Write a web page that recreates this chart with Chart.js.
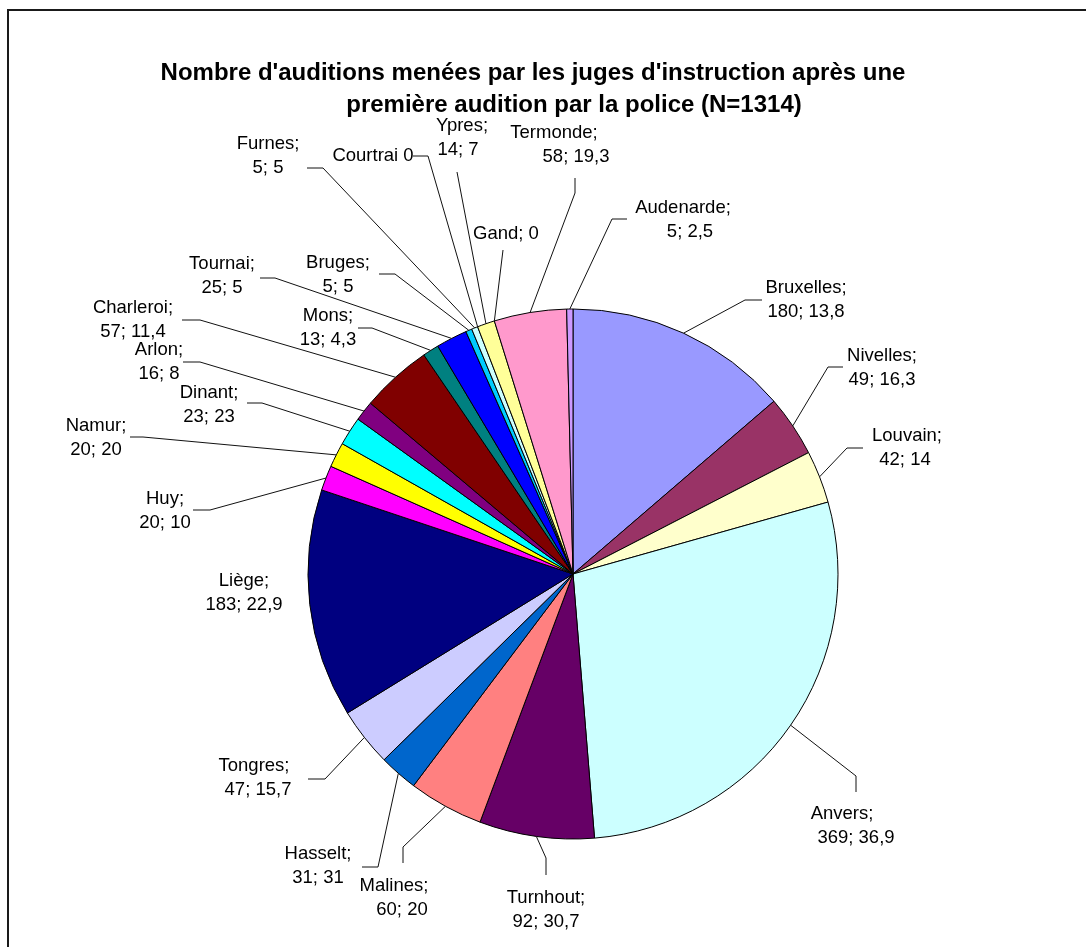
<!DOCTYPE html>
<html lang="fr">
<head>
<meta charset="utf-8">
<title>Auditions par les juges d'instruction</title>
<script src="https://cdn.jsdelivr.net/npm/chart.js@4.4.1/dist/chart.umd.min.js"></script>
<style>
  html, body { margin: 0; padding: 0; background: #fff; }
  #wrap { width: 1086px; height: 947px; }
</style>
</head>
<body>
<div id="wrap"><canvas id="pieChart" width="1086" height="947"></canvas></div>
<script>
// arrondissements dans l'ordre des secteurs (sens horaire depuis midi)
const arrondissements = ['Bruxelles', 'Nivelles', 'Louvain', 'Anvers', 'Turnhout', 'Malines', 'Hasselt',
  'Tongres', 'Liège', 'Huy', 'Namur', 'Dinant', 'Arlon', 'Charleroi', 'Mons', 'Tournai', 'Bruges',
  'Furnes', 'Courtrai', 'Ypres', 'Gand', 'Termonde', 'Audenarde'];
const auditions = [180, 49, 42, 369, 92, 60, 31, 47, 183, 20, 20, 23, 16, 57, 13, 25, 5, 5, 0, 14, 0, 58, 5];
// second chiffre de l'étiquette (null = pas affiché)
const taux = [13.8, 16.3, 14, 36.9, 30.7, 20, 31, 15.7, 22.9, 10, 20, 23, 8, 11.4, 4.3, 5, 5, 5, null, 7, null, 19.3, 2.5];
const couleurs = ['#9999FF', '#993366', '#FFFFCC', '#CCFFFF', '#660066', '#FF8080', '#0066CC', '#CCCCFF',
  '#000080', '#FF00FF', '#FFFF00', '#00FFFF', '#800080', '#800000', '#008080', '#0000FF', '#00CCFF',
  '#CCFFFF', '#CCFFCC', '#FFFF99', '#99CCFF', '#FF99CC', '#CC99FF'];
const titre = ["Nombre d'auditions menées par les juges d'instruction après une",
  'première audition par la police (N=1314)'];

// emplacement des étiquettes : centre x, y de la 1re ligne, x2 = centre de la 2e ligne,
// trait = départ et coude du trait de rappel (l'autre bout est pris sur le secteur)
const placement = [
  { x: 806, y: 287, trait: [762, 300, 745, 300] },             // Bruxelles
  { x: 882, y: 355, trait: [843, 367, 828, 367] },             // Nivelles
  { x: 907, y: 435, x2: 905, trait: [863, 448, 847, 448] },    // Louvain
  { x: 842, y: 813, x2: 856, trait: [856, 792, 856, 776] },    // Anvers
  { x: 546, y: 897, trait: [546, 875, 546, 858] },             // Turnhout
  { x: 394, y: 885, x2: 402, trait: [403, 863, 403, 847] },    // Malines
  { x: 318, y: 853, trait: [362, 867, 378, 867] },             // Hasselt
  { x: 254, y: 765, x2: 258, trait: [308, 779, 325, 779] },    // Tongres
  { x: 244, y: 580, trait: null },                             // Liège
  { x: 165, y: 498, trait: [193, 510, 210, 510] },             // Huy
  { x: 96, y: 425, trait: [130, 437, 143, 437] },              // Namur
  { x: 209, y: 392, trait: [247, 403, 262, 403] },             // Dinant
  { x: 159, y: 349, trait: [183, 362, 200, 362] },             // Arlon
  { x: 133, y: 307, trait: [182, 320, 200, 320] },             // Charleroi
  { x: 328, y: 315, trait: [358, 328, 372, 328] },             // Mons
  { x: 222, y: 263, trait: [260, 278, 275, 278] },             // Tournai
  { x: 338, y: 262, trait: [379, 274, 395, 274] },             // Bruges
  { x: 268, y: 143, trait: [307, 168, 323, 168] },             // Furnes
  { x: 373, y: 155, sep: ' ', trait: [413, 156, 428, 156] },   // Courtrai
  { x: 462, y: 125, x2: 458, trait: [457, 172, 457, 172] },    // Ypres
  { x: 506, y: 233, sep: '; ', trait: [503, 250, 503, 250] },  // Gand
  { x: 554, y: 132, x2: 576, trait: [575, 178, 575, 193] },    // Termonde
  { x: 683, y: 207, x2: 690, trait: [627, 219, 612, 219] }     // Audenarde
];

const police = 'Liberation Sans, Arial, sans-serif';

function texteEtiquette(i) {
  if (taux[i] === null) {
    return [arrondissements[i] + (placement[i].sep || '; ') + auditions[i]];
  }
  return [arrondissements[i] + ';', auditions[i] + '; ' + String(taux[i]).replace('.', ',')];
}

// fond, cadre et titre
const cadrePlugin = {
  id: 'cadre',
  beforeDraw(chart) {
    const ctx = chart.ctx;
    ctx.save();
    ctx.fillStyle = '#fff';
    ctx.fillRect(0, 0, chart.width, chart.height);
    ctx.strokeStyle = '#1a1a1a';
    ctx.lineWidth = 2;
    ctx.strokeRect(8, 10, 1200, 1200);
    ctx.fillStyle = '#000';
    ctx.font = 'bold 24px ' + police;
    ctx.textAlign = 'center';
    ctx.textBaseline = 'alphabetic';
    ctx.fillText(titre[0], 533, 80);
    ctx.fillText(titre[1], 574, 112);
    ctx.restore();
  }
};

// étiquettes et traits de rappel
const etiquettesPlugin = {
  id: 'etiquettes',
  afterDatasetsDraw(chart) {
    const ctx = chart.ctx;
    const meta = chart.getDatasetMeta(0);
    ctx.save();
    ctx.strokeStyle = '#111';
    ctx.lineWidth = 1;
    meta.data.forEach((arc, i) => {
      const p = placement[i];
      const { x, y, startAngle, endAngle, outerRadius } = arc.getProps(['x', 'y', 'startAngle', 'endAngle', 'outerRadius'], true);
      if (p.trait) {
        const milieu = (startAngle + endAngle) / 2;
        ctx.beginPath();
        ctx.moveTo(p.trait[0], p.trait[1]);
        ctx.lineTo(p.trait[2], p.trait[3]);
        ctx.lineTo(x + Math.cos(milieu) * outerRadius, y + Math.sin(milieu) * outerRadius);
        ctx.stroke();
      }
      const lignes = texteEtiquette(i);
      ctx.fillStyle = '#000';
      ctx.font = '18.5px ' + police;
      ctx.textAlign = 'center';
      ctx.textBaseline = 'middle';
      ctx.fillText(lignes[0], p.x, p.y + 1);
      if (lignes[1]) ctx.fillText(lignes[1], p.x2 || p.x, p.y + 25);
    });
    ctx.restore();
  }
};

new Chart(document.getElementById('pieChart'), {
  type: 'pie',
  data: {
    labels: arrondissements,
    datasets: [{
      data: auditions,
      backgroundColor: couleurs,
      borderColor: '#000',
      borderWidth: 1,
      hoverOffset: 0
    }]
  },
  options: {
    responsive: false,
    animation: false,
    events: [],
    radius: 265,
    layout: { padding: { left: 308, top: 309, right: 248, bottom: 108 } },
    plugins: {
      legend: { display: false },
      title: { display: false },
      tooltip: { enabled: false }
    }
  },
  plugins: [cadrePlugin, etiquettesPlugin]
});
</script>
</body>
</html>
